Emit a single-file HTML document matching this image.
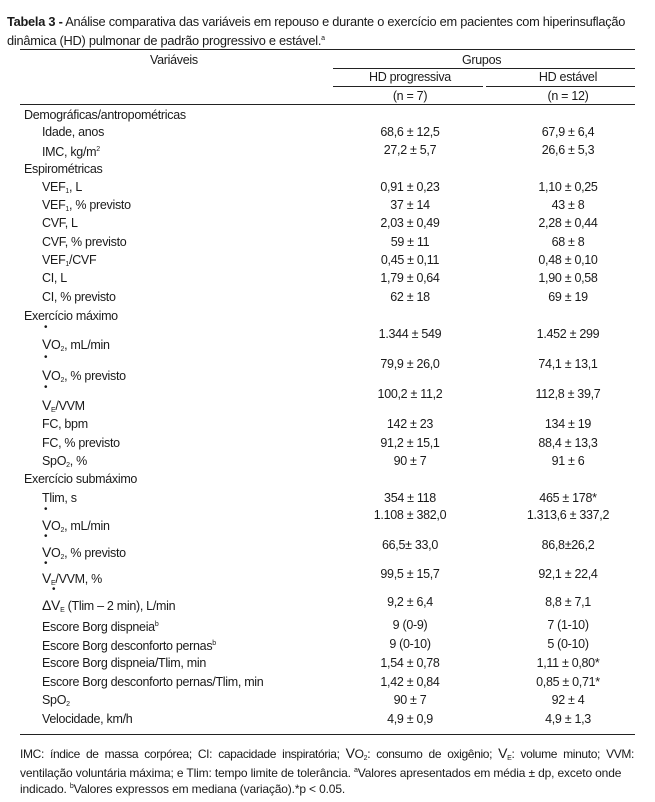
<!DOCTYPE html>
<html><head><meta charset="utf-8"><style>
body{margin:0;width:655px;height:802px;background:#fff;position:relative;overflow:hidden;font-family:"Liberation Sans",sans-serif;color:#1a1a1a;font-size:12.5px;letter-spacing:-0.3px}
.t{position:absolute;white-space:nowrap;line-height:16px}
.c1{position:absolute;width:160px;left:330px;text-align:center;white-space:nowrap;line-height:16px}
.c2{position:absolute;width:160px;left:488px;text-align:center;white-space:nowrap;line-height:16px}
.r{position:absolute;height:1px;background:#222}
sub{font-size:7px;vertical-align:-2px}
sup{font-size:7px;vertical-align:5px}
.d{position:absolute;font-size:10px;line-height:10px}
.f{position:absolute;white-space:nowrap;line-height:16px;left:20px;font-size:12px;letter-spacing:-0.15px}
</style></head><body>
<div class="t" style="left:7px;top:14px;font-size:12.8px;letter-spacing:-0.25px"><b>Tabela 3 -</b> Análise comparativa das variáveis em repouso e durante o exercício em pacientes com hiperinsuflação</div>
<div class="t" style="left:7px;top:31px;font-size:12.8px;letter-spacing:-0.25px">dinâmica (HD) pulmonar de padrão progressivo e estável.<sup>a</sup></div>
<div class="r" style="left:20px;width:615px;top:49px"></div>
<div class="t" style="left:150px;top:52px">Variáveis</div>
<div class="t" style="left:462px;top:52px">Grupos</div>
<div class="r" style="left:333px;width:302px;top:68px"></div>
<div class="c1" style="top:69px">HD progressiva</div>
<div class="c2" style="top:69px">HD estável</div>
<div class="r" style="left:333px;width:150px;top:86px"></div>
<div class="r" style="left:486px;width:149px;top:86px"></div>
<div class="c1" style="top:88px">(n = 7)</div>
<div class="c2" style="top:88px">(n = 12)</div>
<div class="r" style="left:20px;width:615px;top:104px"></div>

<div class="t" style="left:24px;top:107px">Demográficas/antropométricas</div>
<div class="t" style="left:42px;top:124px">Idade, anos</div><div class="c1" style="top:124px">68,6 ± 12,5</div><div class="c2" style="top:124px">67,9 ± 6,4</div>
<div class="t" style="left:42px;top:142px">IMC, kg/m<sup>2</sup></div><div class="c1" style="top:142px">27,2 ± 5,7</div><div class="c2" style="top:142px">26,6 ± 5,3</div>
<div class="t" style="left:24px;top:161px">Espirométricas</div>
<div class="t" style="left:42px;top:179px">VEF<sub>1</sub>, L</div><div class="c1" style="top:179px">0,91 ± 0,23</div><div class="c2" style="top:179px">1,10 ± 0,25</div>
<div class="t" style="left:42px;top:197px">VEF<sub>1</sub>, % previsto</div><div class="c1" style="top:197px">37 ± 14</div><div class="c2" style="top:197px">43 ± 8</div>
<div class="t" style="left:42px;top:215px">CVF, L</div><div class="c1" style="top:215px">2,03 ± 0,49</div><div class="c2" style="top:215px">2,28 ± 0,44</div>
<div class="t" style="left:42px;top:234px">CVF, % previsto</div><div class="c1" style="top:234px">59 ± 11</div><div class="c2" style="top:234px">68 ± 8</div>
<div class="t" style="left:42px;top:252px">VEF<sub>1</sub>/CVF</div><div class="c1" style="top:252px">0,45 ± 0,11</div><div class="c2" style="top:252px">0,48 ± 0,10</div>
<div class="t" style="left:42px;top:270px">CI, L</div><div class="c1" style="top:270px">1,79 ± 0,64</div><div class="c2" style="top:270px">1,90 ± 0,58</div>
<div class="t" style="left:42px;top:289px">CI, % previsto</div><div class="c1" style="top:289px">62 ± 18</div><div class="c2" style="top:289px">69 ± 19</div>
<div class="t" style="left:24px;top:308px">Exercício máximo</div>
<div class="d" style="left:44px;top:323px">•</div>
<div class="t" style="left:42px;top:336px"><span style="font-size:14px">V</span>O<sub>2</sub>, mL/min</div><div class="c1" style="top:326px">1.344 ± 549</div><div class="c2" style="top:326px">1.452 ± 299</div>
<div class="d" style="left:44px;top:353px">•</div>
<div class="t" style="left:42px;top:367px"><span style="font-size:14px">V</span>O<sub>2</sub>, % previsto</div><div class="c1" style="top:356px">79,9 ± 26,0</div><div class="c2" style="top:356px">74,1 ± 13,1</div>
<div class="d" style="left:44px;top:383px">•</div>
<div class="t" style="left:42px;top:397px"><span style="font-size:14px">V</span><sub>E</sub>/VVM</div><div class="c1" style="top:386px">100,2 ± 11,2</div><div class="c2" style="top:386px">112,8 ± 39,7</div>
<div class="t" style="left:42px;top:416px">FC, bpm</div><div class="c1" style="top:416px">142 ± 23</div><div class="c2" style="top:416px">134 ± 19</div>
<div class="t" style="left:42px;top:435px">FC, % previsto</div><div class="c1" style="top:435px">91,2 ± 15,1</div><div class="c2" style="top:435px">88,4 ± 13,3</div>
<div class="t" style="left:42px;top:453px">SpO<sub>2</sub>, %</div><div class="c1" style="top:453px">90 ± 7</div><div class="c2" style="top:453px">91 ± 6</div>
<div class="t" style="left:24px;top:471px">Exercício submáximo</div>
<div class="t" style="left:42px;top:490px">Tlim, s</div><div class="c1" style="top:490px">354 ± 118</div><div class="c2" style="top:490px">465 ± 178*</div>
<div class="d" style="left:44px;top:505px">•</div>
<div class="t" style="left:42px;top:517px"><span style="font-size:14px">V</span>O<sub>2</sub>, mL/min</div><div class="c1" style="top:507px">1.108 ± 382,0</div><div class="c2" style="top:507px">1.313,6 ± 337,2</div>
<div class="d" style="left:44px;top:532px">•</div>
<div class="t" style="left:42px;top:544px"><span style="font-size:14px">V</span>O<sub>2</sub>, % previsto</div><div class="c1" style="top:537px">66,5± 33,0</div><div class="c2" style="top:537px">86,8±26,2</div>
<div class="d" style="left:44px;top:559px">•</div>
<div class="t" style="left:42px;top:570px"><span style="font-size:14px">V</span><sub>E</sub>/VVM, %</div><div class="c1" style="top:566px">99,5 ± 15,7</div><div class="c2" style="top:566px">92,1 ± 22,4</div>
<div class="d" style="left:52px;top:585px">•</div>
<div class="t" style="left:42px;top:597px"><span style="font-size:14px">ΔV</span><sub>E</sub> (Tlim – 2 min), L/min</div><div class="c1" style="top:594px">9,2 ± 6,4</div><div class="c2" style="top:594px">8,8 ± 7,1</div>
<div class="t" style="left:42px;top:617px">Escore Borg dispneia<sup>b</sup></div><div class="c1" style="top:617px">9 (0-9)</div><div class="c2" style="top:617px">7 (1-10)</div>
<div class="t" style="left:42px;top:636px">Escore Borg desconforto pernas<sup>b</sup></div><div class="c1" style="top:636px">9 (0-10)</div><div class="c2" style="top:636px">5 (0-10)</div>
<div class="t" style="left:42px;top:655px">Escore Borg dispneia/Tlim, min</div><div class="c1" style="top:655px">1,54 ± 0,78</div><div class="c2" style="top:655px">1,11 ± 0,80*</div>
<div class="t" style="left:42px;top:674px">Escore Borg desconforto pernas/Tlim, min</div><div class="c1" style="top:674px">1,42 ± 0,84</div><div class="c2" style="top:674px">0,85 ± 0,71*</div>
<div class="t" style="left:42px;top:692px">SpO<sub>2</sub></div><div class="c1" style="top:692px">90 ± 7</div><div class="c2" style="top:692px">92 ± 4</div>
<div class="t" style="left:42px;top:711px">Velocidade, km/h</div><div class="c1" style="top:711px">4,9 ± 0,9</div><div class="c2" style="top:711px">4,9 ± 1,3</div>
<div class="r" style="left:20px;width:615px;top:734px"></div>

<div class="f" style="top:745px;width:614px;white-space:normal;text-align:justify;text-align-last:justify;letter-spacing:-0.35px">IMC: índice de massa corpórea; CI: capacidade inspiratória; <span style="font-size:14px">V</span>O<sub>2</sub>: consumo de oxigênio; <span style="font-size:14px">V</span><sub>E</sub>: volume minuto; VVM:</div>
<div class="f" style="top:763px">ventilação voluntária máxima; e Tlim: tempo limite de tolerância. <sup>a</sup>Valores apresentados em média ± dp, exceto onde</div>
<div class="f" style="top:779px">indicado. <sup>b</sup>Valores expressos em mediana (variação).*p &lt; 0.05.</div>
</body></html>
